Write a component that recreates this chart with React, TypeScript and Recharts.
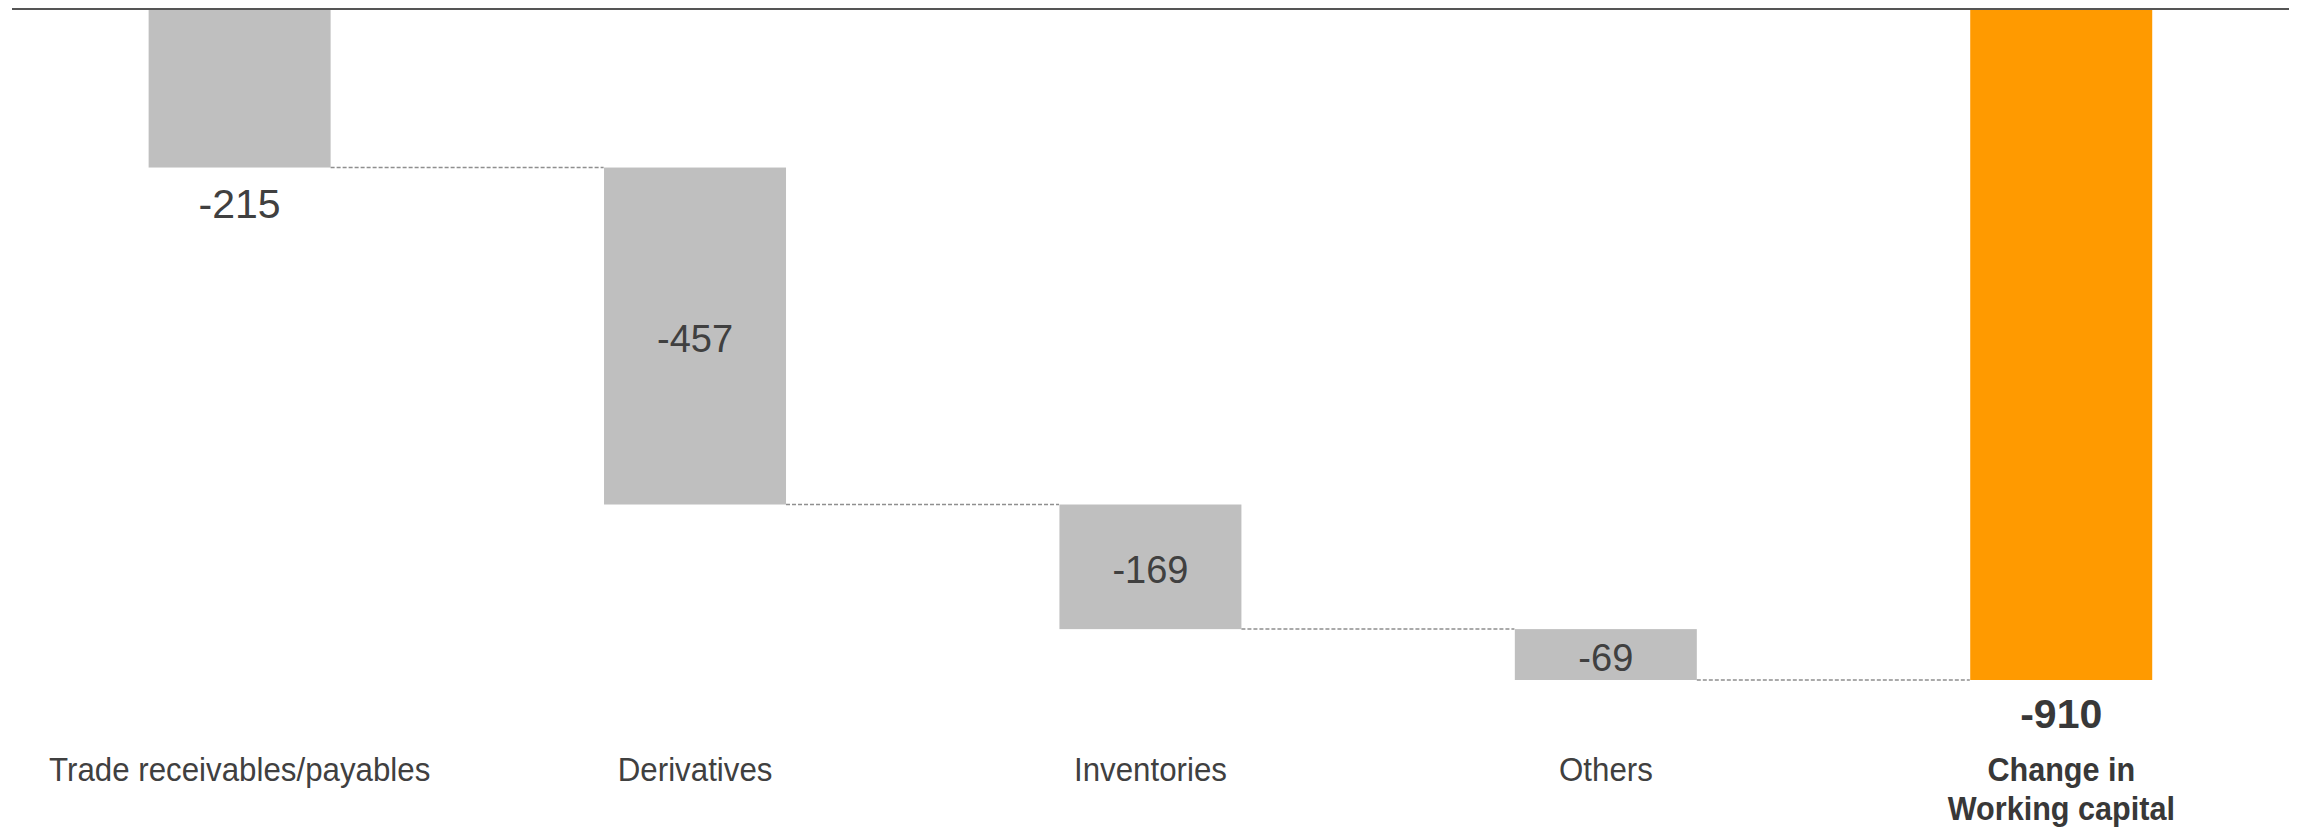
import React from 'react';
import { BarChart, Bar, XAxis, YAxis, ReferenceLine, LabelList, Cell } from 'recharts';

// waterfall: change in working capital
const categories = ['Trade receivables/payables', 'Derivatives', 'Inventories', 'Others', 'Change in\nWorking capital'];
const changes = [-215, -457, -169, -69, -910];
const isTotal = [false, false, false, false, true];
const yDomain = [-910, 0];

const FONT = "'Liberation Sans', Arial, sans-serif";
const TEXT = '#404040';
const GREY = '#bfbfbf';
const ORANGE = '#ff9a00';

let running = 0;
const data = categories.map((name, i) => {
  const v = changes[i];
  if (isTotal[i]) return { name, value: v, range: [0, v], total: true };
  const start = running;
  running += v;
  return { name, value: v, range: [start, running], total: false };
});

// bar + dashed connector to the next bar
// eslint-disable-next-line @typescript-eslint/no-explicit-any
const StepBar = (props: any) => {
  const { x, y, width, height, fill, index, payload } = props;
  const top = Math.min(y, y + height);
  const bottom = Math.max(y, y + height);
  const endY = payload.value < 0 ? bottom : top;
  const last = index === data.length - 1;
  return (
    <g>
      <rect x={x} y={top} width={width} height={bottom - top} fill={fill} />
      {!last && (
        <line
          x1={x + width}
          x2={x + width * 2.5}
          y1={endY}
          y2={endY}
          stroke="#8f8f8f"
          strokeWidth={1.5}
          strokeDasharray="4 2"
        />
      )}
    </g>
  );
};

// eslint-disable-next-line @typescript-eslint/no-explicit-any
const ValueLabel = (props: any) => {
  const { x, y, width, height, value, index } = props;
  const top = Math.min(y, y + height);
  const bottom = Math.max(y, y + height);
  const cx = x + width / 2;
  if (isTotal[index]) {
    return (
      <text x={cx} y={bottom + 48} textAnchor="middle" fill="#383838" fontFamily={FONT} fontWeight="bold" fontSize={41}>
        {value}
      </text>
    );
  }
  if (index === 0) {
    return (
      <text x={cx} y={bottom + 50} textAnchor="middle" fill={TEXT} fontFamily={FONT} fontSize={41}>
        {value}
      </text>
    );
  }
  return (
    <text x={cx} y={(top + bottom) / 2 + 16} textAnchor="middle" fill={TEXT} fontFamily={FONT} fontSize={38}>
      {value}
    </text>
  );
};

// eslint-disable-next-line @typescript-eslint/no-explicit-any
const CategoryTick = (props: any) => {
  const { x, y, payload, index } = props;
  const lines = String(payload.value).split('\n');
  const bold = isTotal[index];
  // condensed look, like the original DIN face
  const sx = bold ? 0.9 : 0.92;
  return (
    <g transform={`translate(${x},${y + 101}) scale(${sx},1)`}>
      <text x={0} y={0} textAnchor="middle" fill={bold ? '#383838' : TEXT} fontFamily={FONT} fontSize={34} fontWeight={bold ? 'bold' : 'normal'}>
        {lines.map((l, i) => (
          <tspan key={i} x={0} dy={i === 0 ? 0 : 39}>
            {l}
          </tspan>
        ))}
      </text>
    </g>
  );
};

export default function App() {
  return (
    <div style={{ position: 'absolute', left: 0, top: 0, width: 2304, height: 827, background: '#fff' }}>
      <BarChart
        width={2304}
        height={827}
        data={data}
        margin={{ top: 9, right: 15, bottom: 0, left: 12 }}
        barCategoryGap="30%"
      >
        <XAxis
          dataKey="name"
          axisLine={false}
          tickLine={false}
          tickSize={0}
          tickMargin={0}
          height={147}
          interval={0}
          tick={<CategoryTick />}
        />
        <YAxis hide domain={yDomain} />
        <Bar dataKey="range" shape={<StepBar />} isAnimationActive={false}>
          {data.map((d, i) => (
            <Cell key={i} fill={d.total ? ORANGE : GREY} />
          ))}
          <LabelList dataKey="value" content={<ValueLabel />} />
        </Bar>
        <ReferenceLine y={0} stroke="#555" strokeWidth={2} />
      </BarChart>
    </div>
  );
}
